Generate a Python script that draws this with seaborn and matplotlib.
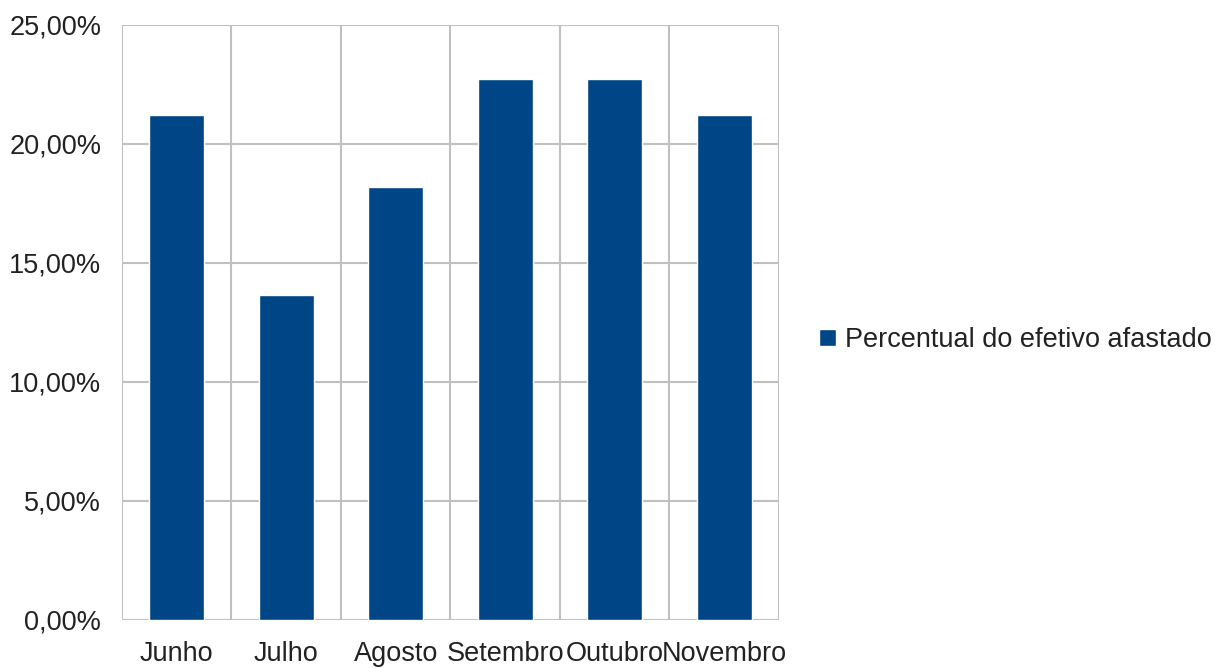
import matplotlib
matplotlib.use("Agg")
import matplotlib.pyplot as plt
import matplotlib.ticker as mticker
import seaborn as sns
import pandas as pd

meses = ["Junho", "Julho", "Agosto", "Setembro", "Outubro", "Novembro"]
percentual = [21.21, 13.64, 18.18, 22.73, 22.73, 21.21]
serie = "Percentual do efetivo afastado"

sns.set_style("white")
plt.rcParams["font.family"] = ["Liberation Sans", "DejaVu Sans"]

cor_barra = "#004586"
cor_grade = "#c0c0c0"
cor_texto = "#222222"
tam = 19.5

df = pd.DataFrame({"mes": meses, "valor": percentual, "serie": serie})

fig = plt.figure(figsize=(12.2, 6.68), dpi=100)
ax = fig.add_axes([0.1, 0.072, 0.5385, 0.8906])

sns.barplot(data=df, x="mes", y="valor", hue="serie", palette=[cor_barra],
            width=0.5, ax=ax, zorder=3, saturation=1)

ax.set_xlim(-0.5, len(meses) - 0.5)
ax.set_ylim(0, 25)
ax.yaxis.set_major_locator(mticker.MultipleLocator(5))
ax.yaxis.set_major_formatter(mticker.FuncFormatter(lambda v, p: f"{v:.2f}".replace(".", ",") + "%"))

# category boundaries as minor ticks, drawn as vertical grid lines
ax.set_xticks([i - 0.5 for i in range(len(meses) + 1)], minor=True)
ax.grid(True, which="minor", axis="x", color=cor_grade, linewidth=1.5, zorder=0)
ax.grid(True, which="major", axis="y", color=cor_grade, linewidth=1.5, zorder=0)
ax.tick_params(axis="x", which="major", length=0, pad=15, labelsize=tam, labelcolor=cor_texto)
ax.tick_params(axis="x", which="minor", length=12, color=cor_grade, width=1.5, direction="out")
ax.tick_params(axis="y", which="major", length=12, color=cor_grade, width=1.5, pad=3,
               labelsize=tam, labelcolor=cor_texto)

for s in ax.spines.values():
    s.set_visible(False)
ax.set_xlabel("")
ax.set_ylabel("")

leg = ax.legend(loc="center left", bbox_to_anchor=(1.045, 0.47), frameon=False,
                fontsize=tam, handlelength=0.6, handleheight=0.6, handletextpad=0.33,
                borderaxespad=0)
for t in leg.get_texts():
    t.set_color(cor_texto)

fig.savefig("out.png", dpi=100)
